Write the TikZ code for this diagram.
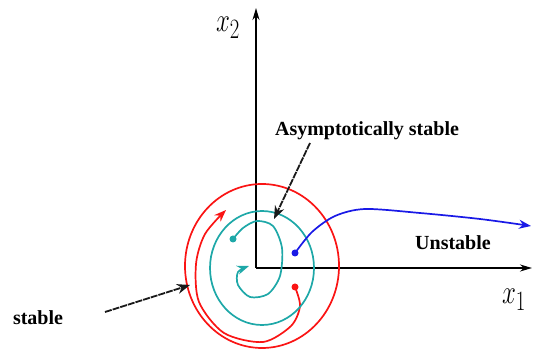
\documentclass[tikz,border=0pt]{standalone}
\usepackage{fontspec}
\setmainfont{Liberation Serif}
\usetikzlibrary{arrows.meta, positioning}
\definecolor{stablered}{RGB}{250,20,20}
\definecolor{asymteal}{RGB}{30,168,168}
\definecolor{unstblue}{RGB}{25,25,230}
\definecolor{pointgray}{RGB}{25,25,25}

\begin{document}
\begin{tikzpicture}[
  x=1pt, y=-1pt,
  axis/.style={-{Stealth[length=12pt,width=7pt]}, line width=1.8pt, black},
  traj/.style={line width=1.7pt, draw=#1},
  tip/.style={-{Stealth[length=12pt,width=9pt]}},
  pointer/.style={-{Stealth[length=13pt,width=10pt]}, line width=1.8pt, pointgray, dash pattern=on 7pt off 1pt},
  lbl/.style={font=\fontsize{20}{22}\selectfont\bfseries, inner sep=0pt},
  axlbl/.style={font=\fontsize{32}{32}\selectfont, inner sep=0pt}
]
\useasboundingbox (0,0) rectangle (533,352);

% Axes
\coordinate (O) at (256,268);
\coordinate (xend) at (532,268);
\coordinate (yend) at (256,8);
\draw[axis] (O) -- (xend);
\draw[axis] (O) -- (yend);
\node[axlbl] (xone) at (514,300) {\scalebox{1}[1.35]{$x_1$}};
\node[axlbl] (xtwo) at (228,28) {\scalebox{1}[1.35]{$x_2$}};

% Stable: closed orbit and outer spiral
\draw[traj=stablered] (262,266) ellipse [x radius=77, y radius=82];
\coordinate (redstart) at (295,287);
\draw[traj=stablered, tip] plot[smooth] coordinates {(295,287) (300,306) (291,326) (263,342) (224,333) (199,302) (196,264) (205,234) (226,210)};
\fill[stablered] (redstart) circle (3.5);

% Asymptotically stable: closed orbit and inner spiral
\draw[traj=asymteal] (262,268) ellipse [x radius=52, y radius=57];
\coordinate (tealstart) at (233,239);
\draw[traj=asymteal, tip] plot[smooth] coordinates {(233,239) (243,228) (257,221) (273,226) (282,248) (280,276) (268,294) (250,297) (238,285) (238,272) (249,266)};
\fill[asymteal] (tealstart) circle (3.5);

% Unstable trajectory
\coordinate (bluestart) at (295,253);
\draw[traj=unstblue, tip] plot[smooth] coordinates {(295,253) (312,232) (335,216) (365,209) (420,213) (480,219) (531,226)};
\fill[unstblue] (bluestart) circle (3.5);

% Labels
\node[lbl] (asym) at (367,131) {Asymptotically stable};
\node[lbl] (unst) at (453,243) {Unstable};
\node[lbl] (stab) at (38,318) {stable};

% Pointers
\coordinate (asymtail) at (310,143);
\coordinate (asymtip) at (274,219);
\draw[pointer] (asymtail) -- (asymtip);
\coordinate (stabtail) at (105,312);
\coordinate (stabtip) at (190,285);
\draw[pointer] (stabtail) -- (stabtip);
\end{tikzpicture}
\end{document}
